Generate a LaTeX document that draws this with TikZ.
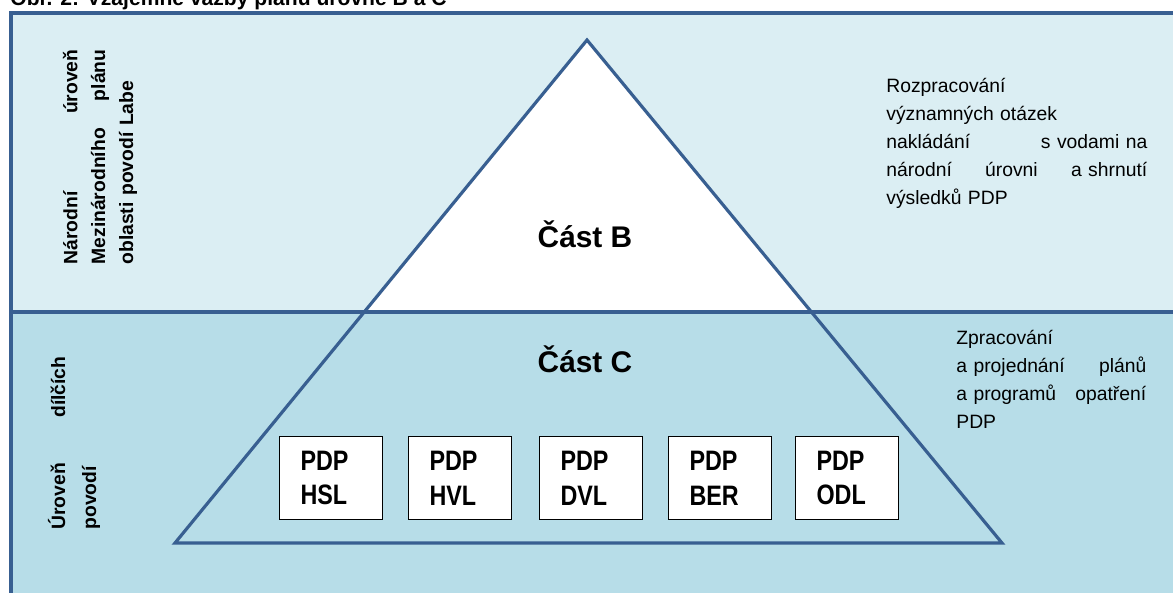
\documentclass[tikz,border=0pt]{standalone}
\usepackage{fontspec}
\setmainfont{Liberation Sans}
\newfontfamily\narrowfont{Liberation Sans}[FakeStretch=0.83]
\usepackage{tikz}
\definecolor{framec}{RGB}{56,95,145}
\definecolor{upperbg}{RGB}{219,238,243}
\definecolor{lowerbg}{RGB}{183,221,232}
\begin{document}
\begin{tikzpicture}[x=0.02cm,y=-0.02cm,
  frameline/.style={framec,line width=1.8pt},
  pdpbox/.style={draw=black,fill=white,line width=1.1pt,minimum height=1.66cm,text width=1.22cm,inner xsep=0.42cm,align=left,font=\narrowfont\bfseries\fontsize{16}{19.8}\selectfont},
  parttext/.style={font=\bfseries\fontsize{17}{20}\selectfont,anchor=base},
  sidetext/.style={inner sep=0pt,align=left,font=\fontsize{11}{15.9}\selectfont},
  leveltext/.style={inner sep=0pt,align=left,rotate=90,font=\bfseries\fontsize{11}{15.9}\selectfont}]
\useasboundingbox (0,0) rectangle (1173,592);
\fill[upperbg] (11,13) rectangle (1200,312);
\fill[lowerbg] (11,312) rectangle (1200,620);
\coordinate (apex) at (587,40);
\coordinate (baseL) at (175,543);
\coordinate (baseR) at (1002,543);
\begin{scope}
\clip (11,13) rectangle (1200,312);
\fill[white] (apex) -- (baseL) -- (baseR) -- cycle;
\end{scope}
\draw[frameline] (1200,13) -- (11,13) -- (11,620);
\draw[frameline] (11,312) -- (1200,312);
\draw[frameline,line join=miter] (apex) -- (baseL) -- (baseR) -- cycle;

\node[anchor=base west,inner sep=0pt,font=\bfseries\fontsize{12}{14}\selectfont] (title) at (10,5) {Obr. 2: Vzájemné vazby plánů úrovně B a C};

\node[parttext] (partB) at (585,247) {Část B};
\node[parttext] (partC) at (585,372) {Část C};

\node[pdpbox] (hsl) at (331,478) {PDP\\HSL};
\node[pdpbox] (hvl) at (460,478) {PDP\\HVL};
\node[pdpbox] (dvl) at (591,478) {PDP\\DVL};
\node[pdpbox] (ber) at (720,478) {PDP\\BER};
\node[pdpbox] (odl) at (847,478) {PDP\\ODL};

\node[sidetext,text width=5.22cm,anchor=north west] (textB) at (886,78) {Rozpracování\\
významných otázek\\
nakládání\hfill s vodami na\\
národní\hfill úrovni\hfill a shrnutí\\
výsledků PDP};
\node[sidetext,text width=3.8cm,anchor=north west] (textC) at (956,330) {Zpracování\\
a projednání\hfill plánů\\
a programů\hfill opatření\\
PDP};

\node[leveltext,text width=4.3cm] (levelB) at (100,157) {Národní\hfill úroveň\\
Mezinárodního\hfill plánu\\
oblasti povodí Labe};
\node[leveltext,text width=3.46cm,font=\bfseries\fontsize{11}{17.6}\selectfont] (levelC) at (74,443) {Úroveň\hfill dílčích\\
povodí};
\end{tikzpicture}
\end{document}
